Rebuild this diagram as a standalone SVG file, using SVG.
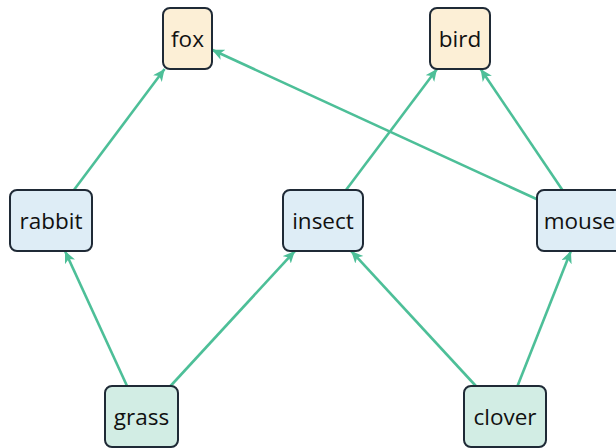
<svg xmlns="http://www.w3.org/2000/svg" width="616" height="448" viewBox="0 0 616 448">
<defs>
<style>
.node rect{stroke:#1f2a36;stroke-width:2}
.pred rect{fill:#fcefd6}
.mid rect{fill:#deedf6}
.base rect{fill:#d2ede4}
.node text{font-family:"Open Sans","DejaVu Sans",sans-serif;font-size:22.5px;fill:#111;text-anchor:middle}
.edges line{stroke:#4dbf98;stroke-width:2.6;marker-end:url(#ah)}
</style>
<marker id="ah" markerUnits="userSpaceOnUse" markerWidth="13" markerHeight="12" refX="12" refY="5.5" orient="auto">
<path d="M0,0 L12,5.5 L0,11 L3.2,5.5 Z" fill="#4dbf98"/>
</marker>
</defs>
<g class="edges">
<line x1="73.9" y1="190" x2="164.6" y2="69"/>
<line x1="537" y1="199.3" x2="212" y2="49.8"/>
<line x1="346" y1="190" x2="437" y2="69"/>
<line x1="562.4" y1="190" x2="480.6" y2="69"/>
<line x1="127.5" y1="387" x2="65" y2="251"/>
<line x1="169.6" y1="387" x2="294.9" y2="251"/>
<line x1="476.8" y1="387" x2="351.2" y2="251"/>
<line x1="517.1" y1="387" x2="570.9" y2="251"/>
</g>
<g id="fox" class="node pred"><rect x="163" y="8" width="49" height="61" rx="7"/><text x="187.5" y="46.5">fox</text></g>
<g id="bird" class="node pred"><rect x="430" y="8" width="60" height="61" rx="7"/><text x="460" y="46.5">bird</text></g>
<g id="rabbit" class="node mid"><rect x="10" y="190" width="82" height="61" rx="7"/><text x="51" y="228.5">rabbit</text></g>
<g id="insect" class="node mid"><rect x="283" y="190" width="80" height="61" rx="7"/><text x="323" y="228.5">insect</text></g>
<g id="mouse" class="node mid"><rect x="537" y="190" width="92" height="61" rx="7"/><text x="579.5" y="228.5">mouse</text></g>
<g id="grass" class="node base"><rect x="105" y="386" width="73" height="61" rx="7"/><text x="141.5" y="424.5">grass</text></g>
<g id="clover" class="node base"><rect x="464" y="386" width="82" height="61" rx="7"/><text x="505" y="424.5">clover</text></g>
</svg>
